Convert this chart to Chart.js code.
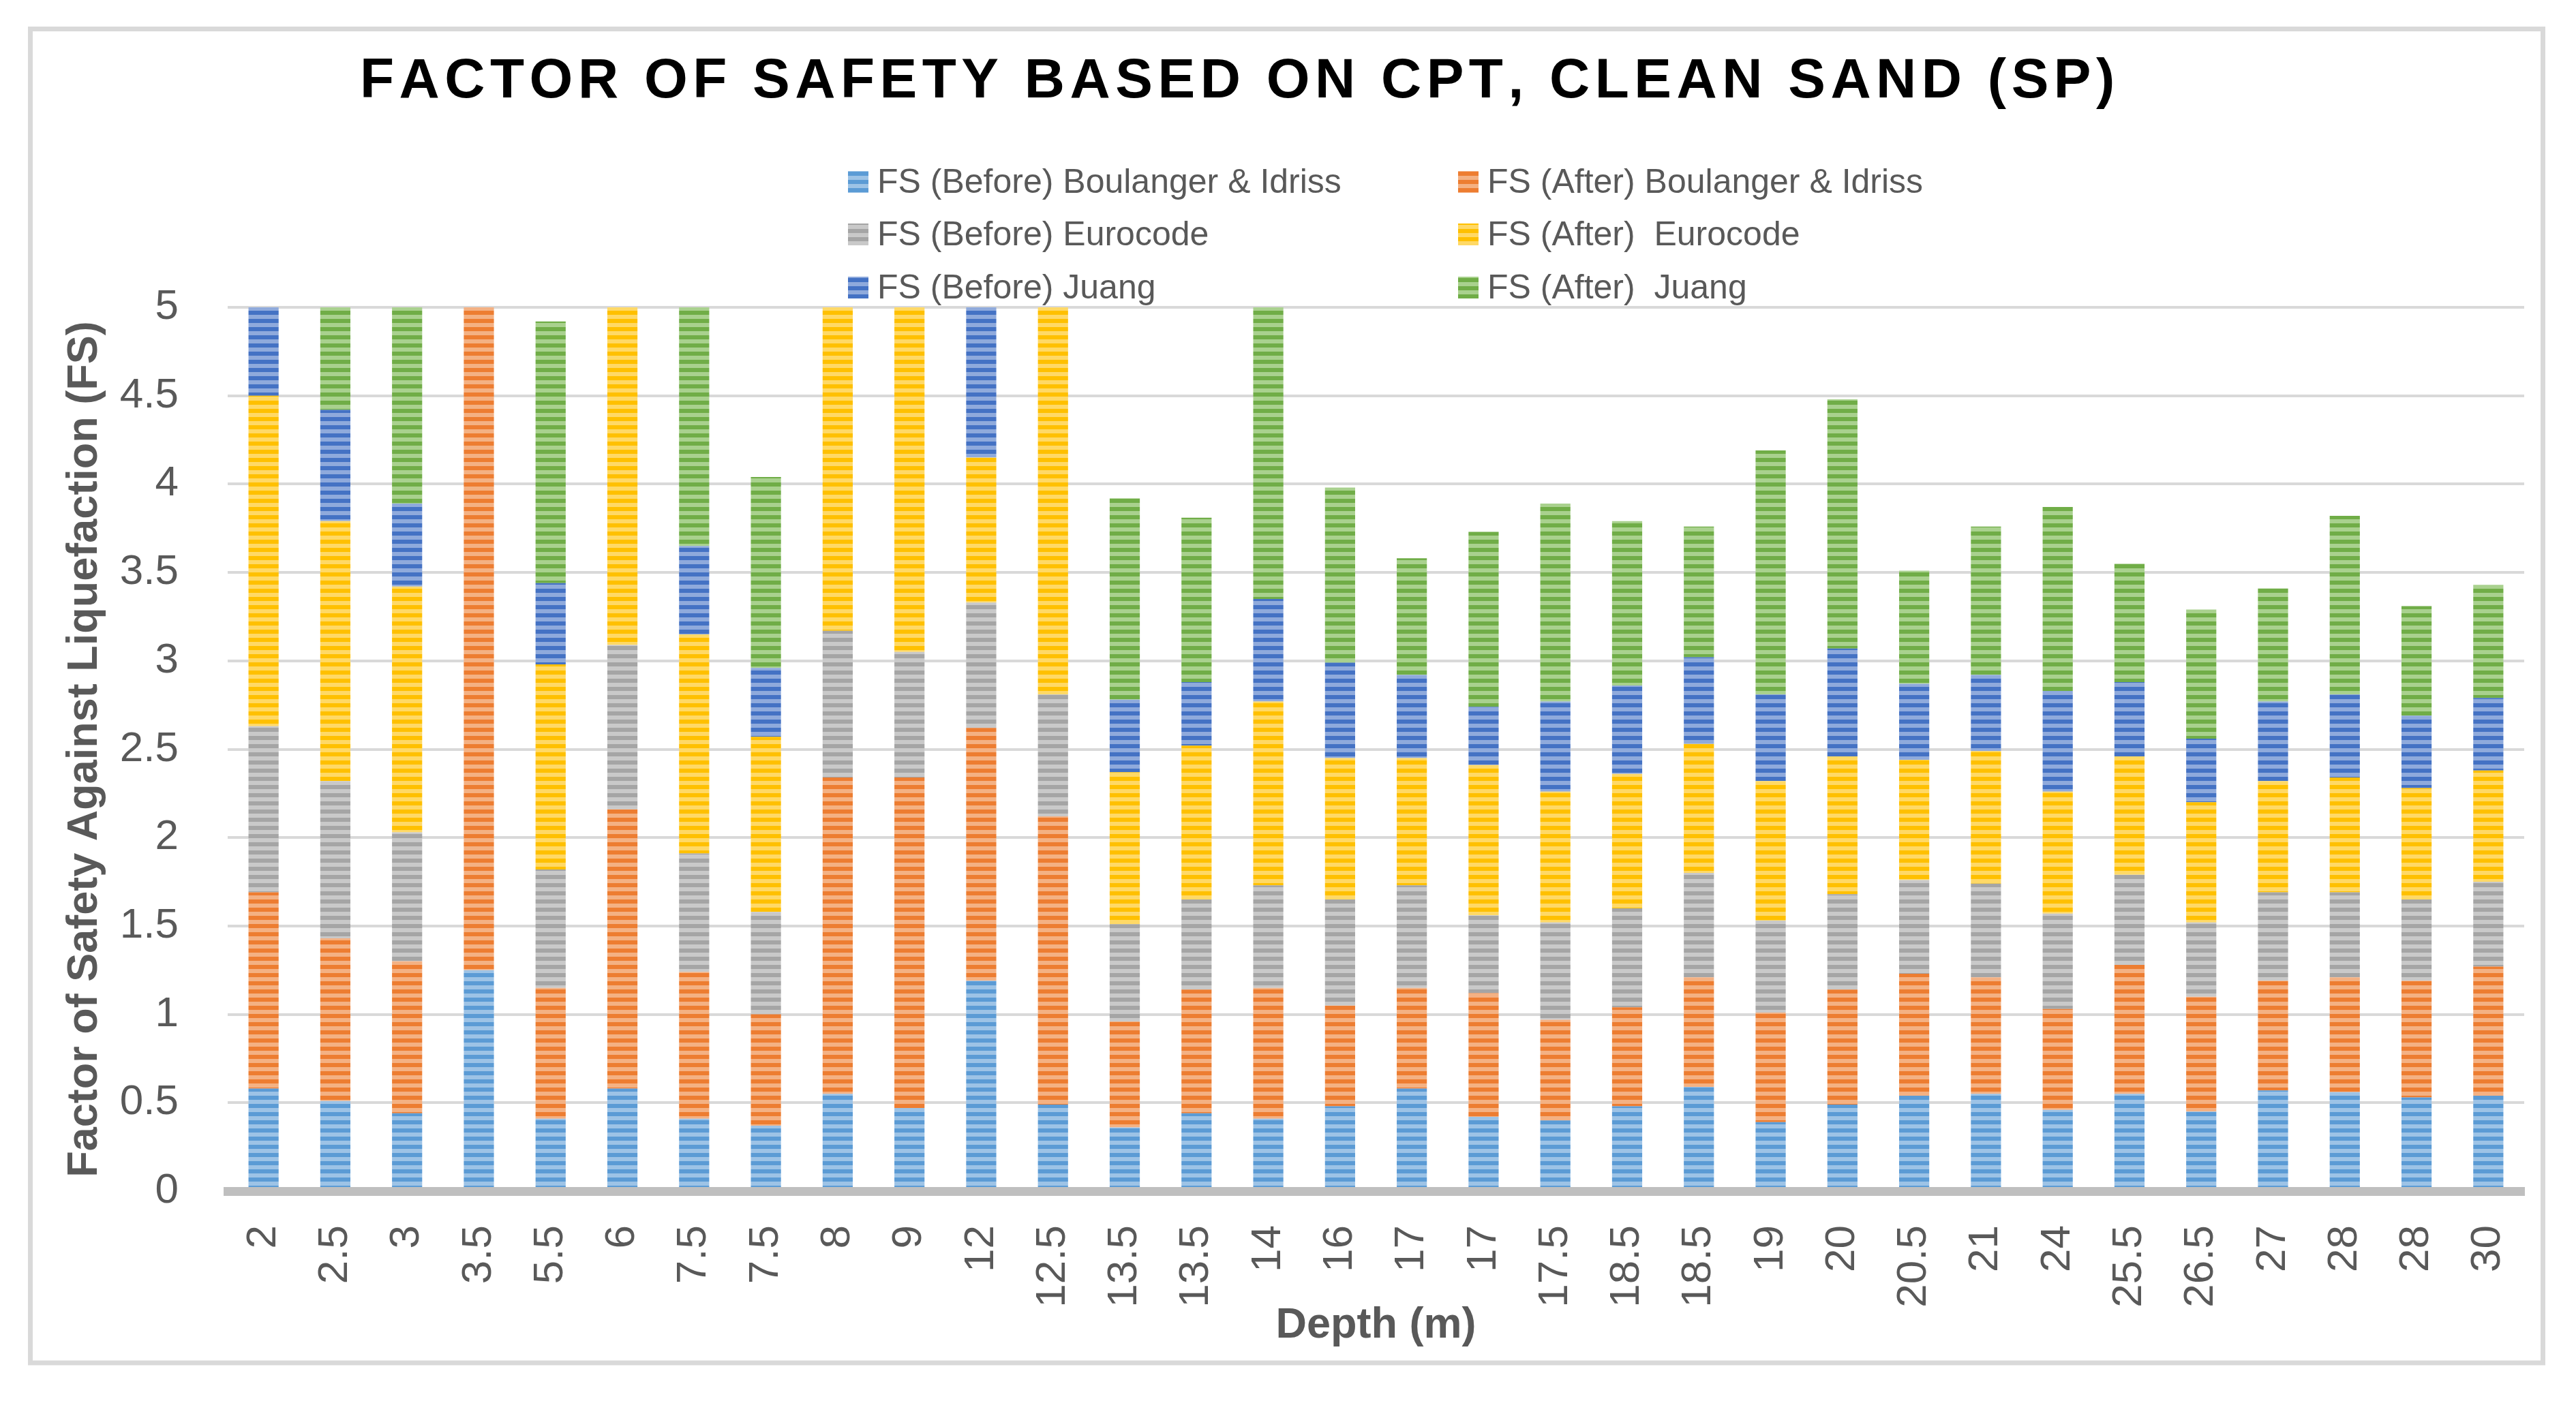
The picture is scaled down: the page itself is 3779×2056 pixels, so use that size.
<!DOCTYPE html>
<html>
<head>
<meta charset="utf-8">
<title>Factor of Safety Based on CPT, Clean Sand (SP)</title>
<script src="https://cdn.jsdelivr.net/npm/chart.js@4.4.1/dist/chart.umd.min.js"></script>
<style>
  html, body { margin: 0; padding: 0; background: #fff; }
  #wrap { position: relative; width: 3779px; height: 2056px; }
</style>
</head>
<body>
<div id="wrap"><canvas id="chart1"></canvas></div>
<script>
// data (stacked segments, bottom to top)
var depths = ['2', '2.5', '3', '3.5', '5.5', '6', '7.5', '7.5', '8', '9', '12', '12.5', '13.5', '13.5', '14', '16',
  '17', '17', '17.5', '18.5', '18.5', '19', '20', '20.5', '21', '24', '25.5', '26.5', '27', '28', '28', '30'];

var fsBeforeBI = [0.58, 0.51, 0.44, 1.25, 0.41, 0.58, 0.41, 0.37, 0.55, 0.47, 1.19, 0.49, 0.36, 0.44, 0.41, 0.48,
  0.58, 0.42, 0.40, 0.48, 0.59, 0.39, 0.49, 0.54, 0.55, 0.46, 0.55, 0.45, 0.57, 0.56, 0.53, 0.54];
var fsAfterBI = [1.11, 0.92, 0.86, 4.00, 0.74, 1.58, 0.83, 0.63, 1.79, 1.87, 1.43, 1.63, 0.60, 0.70, 0.74, 0.57,
  0.57, 0.70, 0.57, 0.56, 0.62, 0.62, 0.65, 0.69, 0.66, 0.57, 0.73, 0.65, 0.62, 0.65, 0.66, 0.73];
var fsBeforeEuro = [0.94, 0.89, 0.73, 0.80, 0.67, 0.93, 0.67, 0.58, 0.83, 0.71, 0.71, 0.69, 0.55, 0.51, 0.58, 0.60,
  0.58, 0.44, 0.55, 0.56, 0.59, 0.52, 0.54, 0.53, 0.53, 0.54, 0.51, 0.42, 0.50, 0.48, 0.46, 0.48];
var fsAfterEuro = [1.87, 1.47, 1.39, 2.00, 1.16, 2.20, 1.24, 0.99, 2.10, 2.20, 0.82, 2.40, 0.86, 0.87, 1.04, 0.80,
  0.72, 0.85, 0.74, 0.76, 0.73, 0.79, 0.78, 0.68, 0.75, 0.69, 0.67, 0.68, 0.63, 0.65, 0.63, 0.63];
var fsBeforeJuang = [0.55, 0.63, 0.47, 0.60, 0.46, 0.60, 0.50, 0.39, 0.60, 0.60, 1.00, 0.60, 0.41, 0.36, 0.58, 0.54,
  0.47, 0.33, 0.51, 0.50, 0.49, 0.49, 0.61, 0.43, 0.43, 0.57, 0.42, 0.36, 0.45, 0.47, 0.41, 0.41];
var fsAfterJuang = [1.20, 1.10, 1.40, 1.50, 1.48, 1.50, 1.60, 1.08, 1.50, 1.50, 1.50, 1.50, 1.14, 0.93, 1.90, 0.99,
  0.66, 0.99, 1.12, 0.93, 0.74, 1.38, 1.41, 0.64, 0.84, 1.04, 0.67, 0.73, 0.64, 1.01, 0.62, 0.64];

var seriesLabels = ['FS (Before) Boulanger & Idriss', 'FS (After) Boulanger & Idriss', 'FS (Before) Eurocode',
  'FS (After)  Eurocode', 'FS (Before) Juang', 'FS (After)  Juang'];

var fontFamily = '"Liberation Sans", Arial, sans-serif';
var axisGrey = '#595959';

var canvas = document.getElementById('chart1');
var ctx = canvas.getContext('2d');

// Excel style striped fill
function stripes(base, light) {
  var c = document.createElement('canvas');
  c.width = 12;
  c.height = 12;
  var g = c.getContext('2d');
  g.fillStyle = base;
  g.fillRect(0, 0, 12, 6);
  g.fillStyle = light;
  g.fillRect(0, 6, 12, 6);
  return ctx.createPattern(c, 'repeat');
}

var fills = [
  stripes('#5b9bd5', '#9dc3e6'),
  stripes('#ed7d31', '#f4b183'),
  stripes('#a5a5a5', '#c9c9c9'),
  stripes('#ffc000', '#ffd966'),
  stripes('#4472c4', '#8faadc'),
  stripes('#70ad47', '#a9d18e')
];

var frame = {
  id: 'frame',
  beforeDraw: function (chart) {
    var c = chart.ctx;
    c.save();
    c.fillStyle = '#ffffff';
    c.fillRect(0, 0, chart.width, chart.height);
    c.strokeStyle = '#d9d9d9';
    c.lineWidth = 7;
    c.strokeRect(44.5, 42.5, 3686, 1957.5);
    c.restore();
  }
};

// spaced out title, drawn letter by letter
var spacedTitle = {
  id: 'spacedTitle',
  afterDraw: function (chart) {
    var c = chart.ctx;
    var text = 'FACTOR OF SAFETY BASED ON CPT, CLEAN SAND (SP)';
    var x = 528;
    c.save();
    c.font = 'bold 82px ' + fontFamily;
    c.fillStyle = '#000000';
    c.textBaseline = 'alphabetic';
    for (var i = 0; i < text.length; i++) {
      c.fillText(text[i], x, 143);
      x += c.measureText(text[i]).width + 7.5;
    }
    c.restore();
  }
};

// two column legend like the Excel one
var gridLegend = {
  id: 'gridLegend',
  afterDraw: function (chart) {
    var c = chart.ctx;
    var colX = [1244, 2139];
    var rowBase = [283, 360, 438];
    c.save();
    c.font = '50px ' + fontFamily;
    c.textBaseline = 'alphabetic';
    chart.data.datasets.forEach(function (ds, i) {
      var x = colX[i % 2];
      var y = rowBase[Math.floor(i / 2)];
      c.fillStyle = ds.backgroundColor;
      c.fillRect(x, y - 32, 30, 32);
      c.fillStyle = axisGrey;
      c.fillText(ds.label, x + 43, y);
    });
    c.restore();
  }
};

var values = [fsBeforeBI, fsAfterBI, fsBeforeEuro, fsAfterEuro, fsBeforeJuang, fsAfterJuang];

var myChart = new Chart(ctx, {
  type: 'bar',
  data: {
    labels: depths,
    datasets: values.map(function (v, i) {
      return {
        label: seriesLabels[i],
        data: v,
        backgroundColor: fills[i],
        hoverBackgroundColor: fills[i],
        borderWidth: 0,
        clip: 0
      };
    })
  },
  options: {
    responsive: true,
    maintainAspectRatio: false,
    devicePixelRatio: 1,
    animation: false,
    barPercentage: 0.42,
    categoryPercentage: 1,
    layout: {
      padding: { left: 87, right: 76, top: 451, bottom: 73 }
    },
    plugins: {
      legend: { display: false },
      title: { display: false },
      tooltip: { enabled: false }
    },
    scales: {
      x: {
        stacked: true,
        grid: { display: false, drawTicks: false },
        border: { display: true, color: '#bfbfbf', width: 13, z: 1 },
        ticks: {
          color: axisGrey,
          font: { size: 62, family: fontFamily },
          minRotation: 90,
          maxRotation: 90,
          autoSkip: false,
          padding: 50
        },
        title: {
          display: true,
          text: 'Depth (m)',
          color: axisGrey,
          font: { size: 63, weight: 'bold', family: fontFamily },
          padding: 0
        },
        afterFit: function (scale) { scale.height = 235; }
      },
      y: {
        stacked: true,
        min: 0,
        max: 5,
        grid: { color: '#d9d9d9', lineWidth: 4, drawTicks: false },
        border: { display: false },
        ticks: {
          stepSize: 0.5,
          color: axisGrey,
          font: { size: 62, family: fontFamily },
          padding: 72,
          callback: function (value) { return String(value); }
        },
        title: {
          display: true,
          text: 'Factor of Safety Against Liquefaction (FS)',
          color: axisGrey,
          font: { size: 63, weight: 'bold', family: fontFamily },
          padding: 0
        },
        afterFit: function (scale) { scale.width = 247; }
      }
    }
  },
  plugins: [frame, spacedTitle, gridLegend]
});
</script>
</body>
</html>
